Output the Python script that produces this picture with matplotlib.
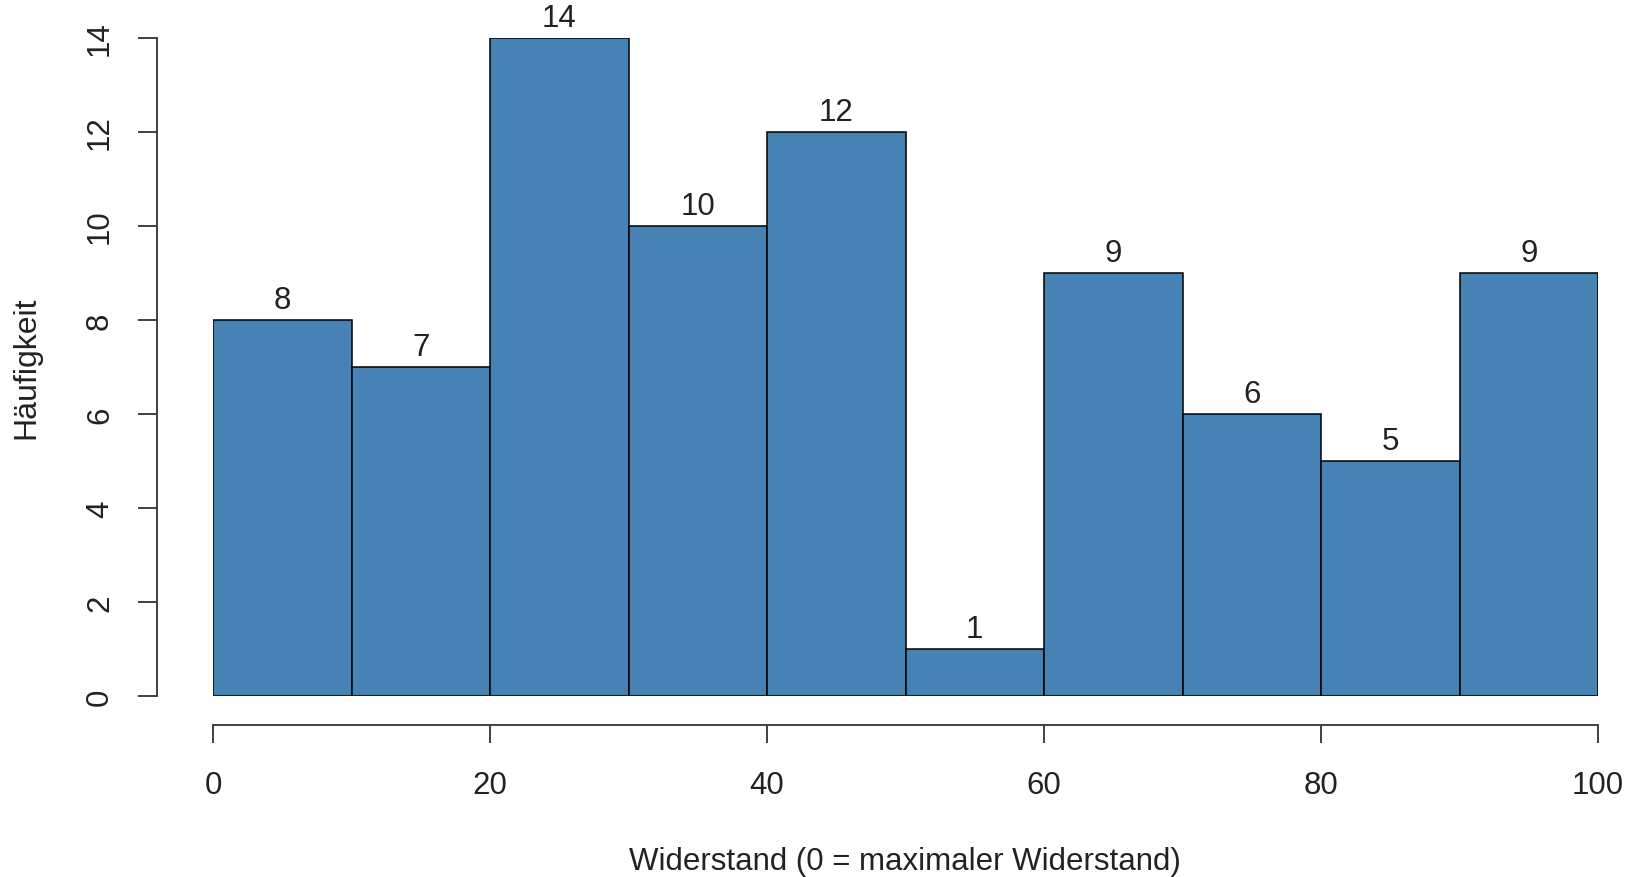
import matplotlib
matplotlib.use("Agg")
import matplotlib.pyplot as plt
import numpy as np

# histogram data (bin edges and counts)
bin_edges = [0, 10, 20, 30, 40, 50, 60, 70, 80, 90, 100]
counts = [8, 7, 14, 10, 12, 1, 9, 6, 5, 9]
x_ticks = [0, 20, 40, 60, 80, 100]
y_ticks = [0, 2, 4, 6, 8, 10, 12, 14]

plt.rcParams['font.family'] = ['Liberation Sans', 'DejaVu Sans']
fs = 22.5

fig = plt.figure(figsize=(16.28, 8.78), dpi=100)
ax = fig.add_axes([213 / 1628, 1 - 697 / 878, 1385 / 1628, 658 / 878])

widths = np.diff(bin_edges)
bars = ax.bar(bin_edges[:-1], counts, width=widths, align='edge',
              color='#4682B4', edgecolor='black', linewidth=1.1)

# count labels above bars
for b, c in zip(bars, counts):
    ax.annotate(str(c), (b.get_x() + b.get_width() / 2, b.get_height()),
                xytext=(0, 3.5), textcoords='offset points',
                ha='center', va='bottom', fontsize=fs, color='#222222',
                annotation_clip=False)

ax.set_xlim(0, 100)
ax.set_ylim(0, 14)
ax.set_xticks(x_ticks)
ax.set_yticks(y_ticks)

# R style detached axes
for side in ['top', 'right']:
    ax.spines[side].set_visible(False)
ax.spines['left'].set_position(('outward', 40))
ax.spines['bottom'].set_position(('outward', 21))
ax.spines['left'].set_bounds(0, 14)
ax.spines['bottom'].set_bounds(0, 100)
for side in ['left', 'bottom']:
    ax.spines[side].set_linewidth(1.3)
    ax.spines[side].set_color('#333333')

ax.tick_params(axis='x', length=13, width=1.3, color='#333333',
               labelsize=fs, pad=19, labelcolor='#222222')
ax.tick_params(axis='y', length=13.5, width=1.3, color='#333333',
               labelsize=fs, pad=17, labelcolor='#222222', labelrotation=90)
for lbl in ax.get_yticklabels():
    lbl.set_va('center')

fig.text(905 / 1628, 1 - 862 / 878, 'Widerstand (0 = maximaler Widerstand)',
         ha='center', va='center', fontsize=fs, color='#222222')
fig.text(26 / 1628, 1 - 368 / 878, 'Häufigkeit', ha='center', va='center',
         rotation=90, fontsize=fs + 0.5, color='#222222')

fig.savefig('out.png', dpi=100)
